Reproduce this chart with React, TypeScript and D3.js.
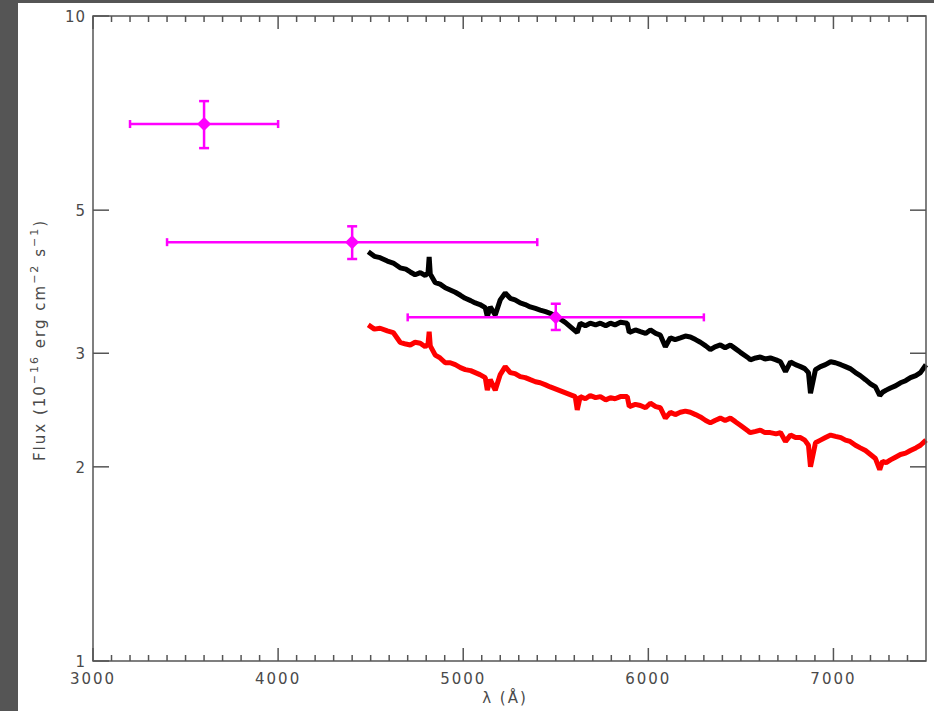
import { useEffect, useRef } from 'react';
import * as d3 from 'd3';

// photometric points (magenta)
const photWave = [3600, 4400, 5500];
const photWaveLo = [3200, 3400, 4700];
const photWaveHi = [4000, 5400, 6300];
const photFlux = [6.8, 4.46, 3.41];
const photFluxLo = [6.24, 4.2, 3.26];
const photFluxHi = [7.38, 4.72, 3.58];

// black spectrum
const blackWave = [4487, 4520, 4551, 4590, 4622, 4659, 4690, 4714, 4740, 4768, 4795, 4810, 4816, 4822, 4849, 4875, 4903, 4930, 4957, 4985, 5011, 5040, 5065, 5090, 5119, 5130, 5146, 5173, 5200, 5227, 5254, 5280, 5308, 5335, 5362, 5390, 5416, 5445, 5470, 5497, 5551, 5616, 5632, 5660, 5686, 5715, 5741, 5770, 5795, 5820, 5849, 5886, 5897, 5930, 5957, 5985, 6011, 6040, 6065, 6092, 6119, 6145, 6173, 6200, 6227, 6255, 6281, 6310, 6335, 6360, 6389, 6415, 6443, 6470, 6497, 6541, 6551, 6580, 6605, 6630, 6659, 6690, 6714, 6741, 6768, 6795, 6822, 6845, 6865, 6876, 6903, 6930, 6957, 6985, 7011, 7040, 7065, 7090, 7119, 7145, 7173, 7200, 7227, 7250, 7265, 7285, 7308, 7335, 7362, 7390, 7416, 7445, 7470, 7500];
const blackFlux = [4.31, 4.24, 4.22, 4.17, 4.14, 4.07, 4.05, 4.01, 3.97, 4.0, 3.96, 4.0, 4.23, 3.98, 3.86, 3.84, 3.79, 3.76, 3.73, 3.69, 3.65, 3.62, 3.59, 3.57, 3.53, 3.42, 3.54, 3.44, 3.63, 3.72, 3.65, 3.63, 3.59, 3.57, 3.54, 3.52, 3.5, 3.48, 3.46, 3.43, 3.35, 3.23, 3.34, 3.31, 3.34, 3.32, 3.34, 3.31, 3.34, 3.32, 3.35, 3.34, 3.23, 3.26, 3.24, 3.22, 3.26, 3.22, 3.2, 3.07, 3.17, 3.15, 3.17, 3.19, 3.18, 3.15, 3.12, 3.08, 3.04, 3.07, 3.09, 3.06, 3.09, 3.05, 3.01, 2.95, 2.93, 2.95, 2.96, 2.94, 2.95, 2.93, 2.91, 2.81, 2.91, 2.88, 2.86, 2.84, 2.8, 2.6, 2.83, 2.86, 2.88, 2.91, 2.9, 2.88, 2.86, 2.84, 2.8, 2.77, 2.73, 2.69, 2.66, 2.58, 2.61, 2.63, 2.65, 2.67, 2.7, 2.72, 2.75, 2.77, 2.8, 2.88];

// red spectrum
const redWave = [4487, 4520, 4551, 4590, 4622, 4659, 4690, 4714, 4740, 4768, 4795, 4810, 4816, 4822, 4849, 4875, 4903, 4930, 4957, 4985, 5011, 5040, 5065, 5090, 5119, 5130, 5146, 5173, 5200, 5227, 5254, 5280, 5308, 5335, 5362, 5390, 5416, 5445, 5470, 5605, 5616, 5632, 5660, 5686, 5715, 5741, 5770, 5795, 5820, 5849, 5886, 5897, 5930, 5957, 5985, 6011, 6040, 6065, 6092, 6119, 6145, 6173, 6200, 6227, 6255, 6281, 6310, 6335, 6360, 6389, 6415, 6443, 6470, 6497, 6541, 6551, 6580, 6605, 6630, 6659, 6690, 6714, 6741, 6768, 6795, 6822, 6845, 6865, 6876, 6903, 6930, 6957, 6985, 7011, 7040, 7065, 7090, 7119, 7145, 7173, 7200, 7227, 7250, 7265, 7285, 7308, 7335, 7362, 7390, 7416, 7445, 7470, 7500];
const redFlux = [3.32, 3.27, 3.28, 3.25, 3.23, 3.12, 3.1, 3.09, 3.12, 3.11, 3.07, 3.1, 3.24, 3.08, 2.98, 2.95, 2.9, 2.9, 2.88, 2.85, 2.83, 2.82, 2.8, 2.78, 2.75, 2.63, 2.73, 2.63, 2.78, 2.86, 2.8, 2.79, 2.76, 2.75, 2.73, 2.71, 2.7, 2.68, 2.66, 2.57, 2.45, 2.57, 2.55, 2.58, 2.56, 2.57, 2.54, 2.56, 2.55, 2.57, 2.57, 2.48, 2.5, 2.49, 2.47, 2.51, 2.48, 2.47, 2.38, 2.43, 2.41, 2.43, 2.44, 2.43, 2.41, 2.39, 2.36, 2.34, 2.36, 2.38, 2.36, 2.38, 2.35, 2.32, 2.27, 2.26, 2.27, 2.28, 2.26, 2.26, 2.25, 2.26, 2.19, 2.24, 2.22, 2.22, 2.2, 2.16, 2.0, 2.18, 2.2, 2.22, 2.24, 2.23, 2.22, 2.2, 2.19, 2.16, 2.14, 2.12, 2.09, 2.06, 1.98, 2.04, 2.03, 2.05, 2.07, 2.09, 2.1, 2.12, 2.14, 2.16, 2.2];

const xTicks = [3000, 4000, 5000, 6000, 7000];
const yTicks = [1, 2, 3, 5, 10];

const W = 934;
const H = 711;
const axisColor = '#555';
const textColor = '#4a4a4a';

const App = () => {
    const ref = useRef<SVGSVGElement>(null);

    useEffect(() => {
        const svg = d3.select(ref.current);
        svg.selectAll('*').remove();

        const left = 93, right = 926, top = 16, bottom = 661;

        // page background
        svg.append('rect').attr('width', W).attr('height', H).attr('fill', '#555');
        svg.append('rect').attr('x', 18).attr('y', 3).attr('width', W - 18).attr('height', H - 3).attr('fill', '#fff');

        const x = d3.scaleLinear().domain([3000, 7500]).range([left, right]);
        const y = d3.scaleLog().domain([1, 10]).range([bottom, top]);

        const font = 'DejaVu Sans, sans-serif';

        // spectra
        const line = d3.line<[number, number]>()
            .x(d => x(d[0]))
            .y(d => y(d[1]));

        svg.append('path')
            .datum(d3.zip(blackWave, blackFlux) as [number, number][])
            .attr('d', line)
            .attr('fill', 'none')
            .attr('stroke', '#000')
            .attr('stroke-width', 5)
            .attr('stroke-linejoin', 'bevel');

        svg.append('path')
            .datum(d3.zip(redWave, redFlux) as [number, number][])
            .attr('d', line)
            .attr('fill', 'none')
            .attr('stroke', '#ff0000')
            .attr('stroke-width', 5)
            .attr('stroke-linejoin', 'bevel');

        // photometry with error bars
        const mag = '#ff00ff';
        const g = svg.append('g').attr('stroke', mag).attr('stroke-width', 2.5);
        photWave.forEach((w, i) => {
            const cx = x(w), cy = y(photFlux[i]);
            const x0 = x(photWaveLo[i]), x1 = x(photWaveHi[i]);
            const y0 = y(photFluxLo[i]), y1 = y(photFluxHi[i]);
            g.append('line').attr('x1', x0).attr('x2', x1).attr('y1', cy).attr('y2', cy);
            g.append('line').attr('x1', x0).attr('x2', x0).attr('y1', cy - 4).attr('y2', cy + 4);
            g.append('line').attr('x1', x1).attr('x2', x1).attr('y1', cy - 4).attr('y2', cy + 4);
            g.append('line').attr('x1', cx).attr('x2', cx).attr('y1', y0).attr('y2', y1);
            g.append('line').attr('x1', cx - 5).attr('x2', cx + 5).attr('y1', y0).attr('y2', y0);
            g.append('line').attr('x1', cx - 5).attr('x2', cx + 5).attr('y1', y1).attr('y2', y1);
            svg.append('path')
                .attr('d', `M${cx},${cy - 7}L${cx + 7},${cy}L${cx},${cy + 7}L${cx - 7},${cy}Z`)
                .attr('fill', mag);
        });

        // frame
        svg.append('rect')
            .attr('x', left).attr('y', top)
            .attr('width', right - left).attr('height', bottom - top)
            .attr('fill', 'none').attr('stroke', axisColor).attr('stroke-width', 1.5);

        // x ticks (bottom and top)
        const minor = d3.range(3100, 7500, 100).filter(v => v % 1000 !== 0);
        const ticks = svg.append('g').attr('stroke', axisColor).attr('stroke-width', 1.5);
        xTicks.forEach(v => {
            ticks.append('line').attr('x1', x(v)).attr('x2', x(v)).attr('y1', bottom).attr('y2', bottom - 13);
            ticks.append('line').attr('x1', x(v)).attr('x2', x(v)).attr('y1', top).attr('y2', top + 13);
        });
        minor.forEach(v => {
            ticks.append('line').attr('x1', x(v)).attr('x2', x(v)).attr('y1', bottom).attr('y2', bottom - 6);
            ticks.append('line').attr('x1', x(v)).attr('x2', x(v)).attr('y1', top).attr('y2', top + 6);
        });
        yTicks.forEach(v => {
            ticks.append('line').attr('x1', left).attr('x2', left + 16).attr('y1', y(v)).attr('y2', y(v));
            ticks.append('line').attr('x1', right).attr('x2', right - 16).attr('y1', y(v)).attr('y2', y(v));
        });

        // tick labels
        svg.append('g').selectAll('text')
            .data(xTicks)
            .enter().append('text')
            .attr('x', d => x(d))
            .attr('y', bottom + 23)
            .attr('text-anchor', 'middle')
            .attr('font-family', font)
            .attr('font-size', 15)
            .attr('letter-spacing', 2)
            .attr('fill', textColor)
            .text(d => d);

        svg.append('g').selectAll('text')
            .data(yTicks)
            .enter().append('text')
            .attr('x', left - 7)
            .attr('y', d => y(d) + 6)
            .attr('text-anchor', 'end')
            .attr('font-family', font)
            .attr('font-size', 15)
            .attr('letter-spacing', 1)
            .attr('fill', textColor)
            .text(d => d);

        // axis titles
        svg.append('text')
            .attr('x', 505)
            .attr('y', 703)
            .attr('text-anchor', 'middle')
            .attr('font-family', font)
            .attr('font-size', 15)
            .attr('letter-spacing', 2)
            .attr('fill', textColor)
            .text('λ (Å)');

        const yt = svg.append('text')
            .attr('transform', 'translate(45,340) rotate(-90)')
            .attr('text-anchor', 'middle')
            .attr('font-family', font)
            .attr('font-size', 15)
            .attr('letter-spacing', 2)
            .attr('fill', textColor);
        yt.append('tspan').text('Flux (10');
        yt.append('tspan').attr('dy', -7).attr('font-size', 11).text('−16');
        yt.append('tspan').attr('dy', 7).text(' erg  cm');
        yt.append('tspan').attr('dy', -7).attr('font-size', 11).text('−2');
        yt.append('tspan').attr('dy', 7).text(' s');
        yt.append('tspan').attr('dy', -7).attr('font-size', 11).text('−1');
        yt.append('tspan').attr('dy', 7).text(')');
    }, []);

    return (
        <svg ref={ref} width={W} height={H} style={{ position: 'absolute', left: 0, top: 0 }} />
    );
};

export default App;
